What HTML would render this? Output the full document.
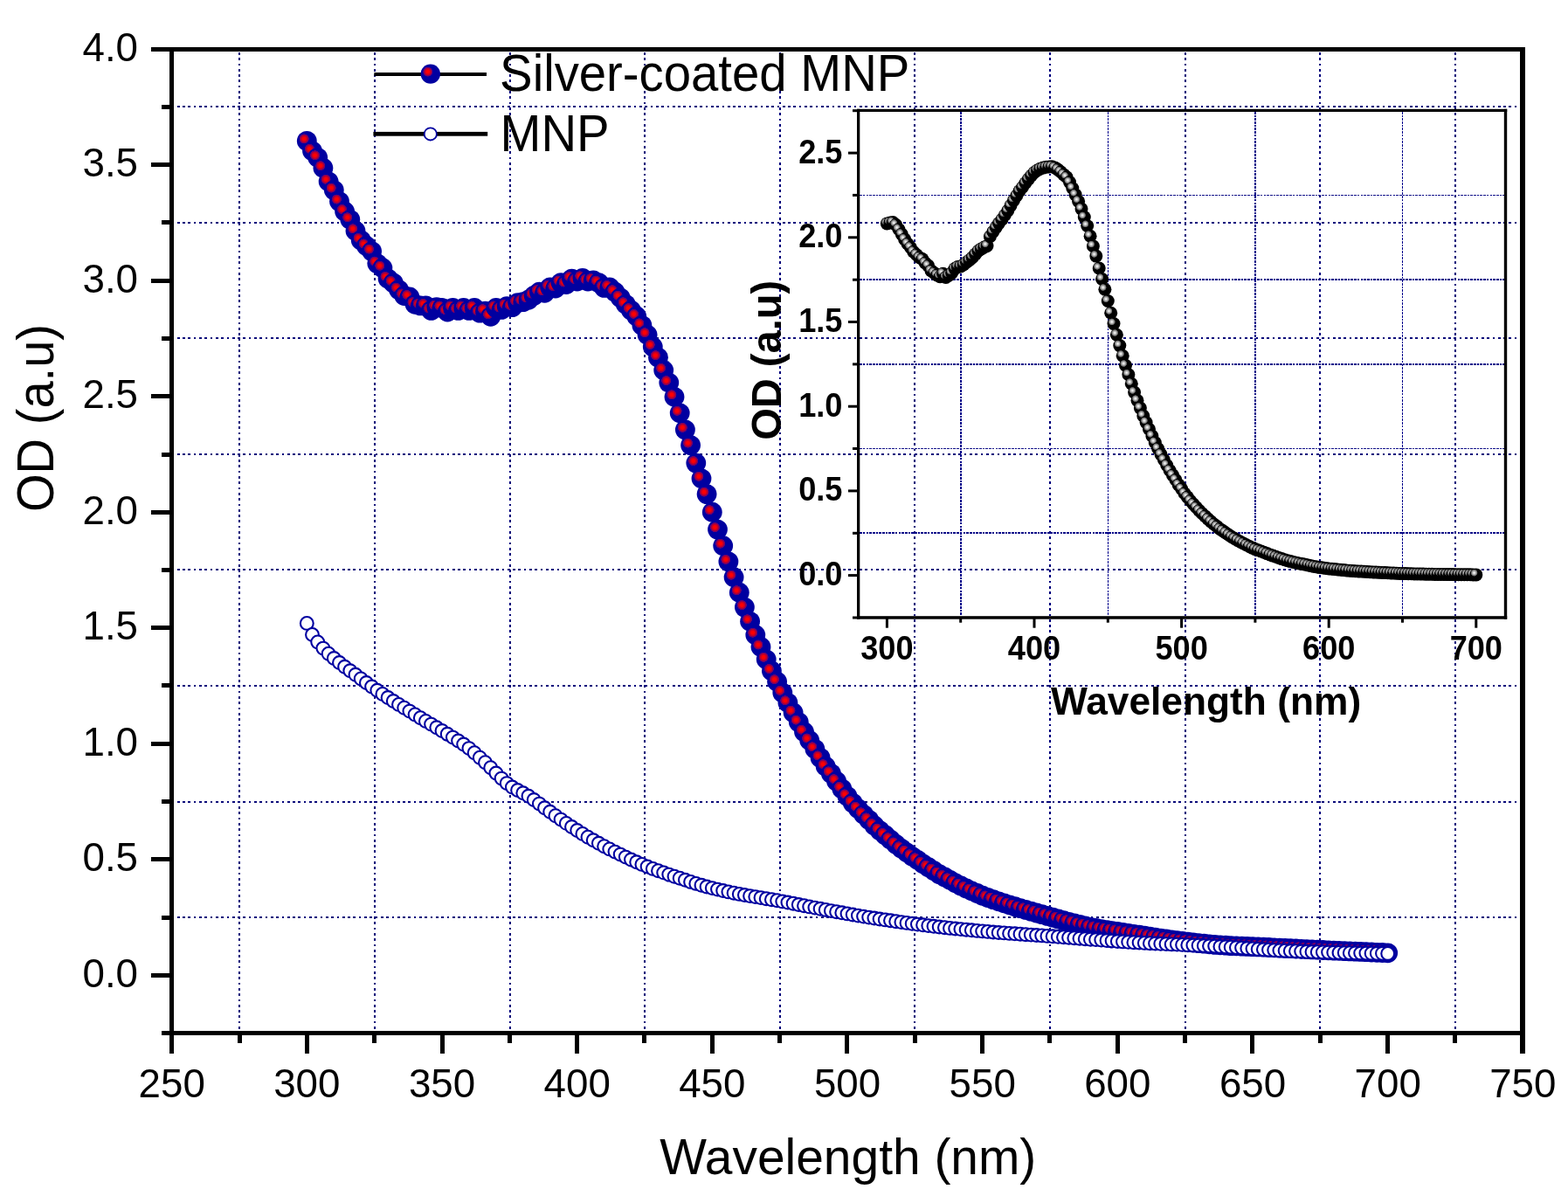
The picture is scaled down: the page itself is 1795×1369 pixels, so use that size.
<!DOCTYPE html>
<html lang="en"><head><meta charset="utf-8"><title>OD vs Wavelength</title>
<style>html,body{margin:0;padding:0;background:#fff}body{width:1795px;height:1369px;overflow:hidden}svg{display:block}</style>
</head><body>
<svg width="1795" height="1369" viewBox="0 0 1795 1369" font-family="'Liberation Sans', Arial, sans-serif">
<defs>
<radialGradient id="gr" cx="0.364" cy="0.39" r="0.25" fx="0.364" fy="0.39">
<stop offset="0" stop-color="#ff0000"/><stop offset="0.34" stop-color="#ff0000"/><stop offset="0.44" stop-color="#d4001c"/><stop offset="0.66" stop-color="#c00028"/><stop offset="0.76" stop-color="#7c0060"/><stop offset="0.93" stop-color="#6c0070"/><stop offset="1" stop-color="#0000a0"/>
</radialGradient>
<radialGradient id="gg" cx="0.353" cy="0.353" r="0.27" fx="0.353" fy="0.353">
<stop offset="0" stop-color="#fcfcfc"/><stop offset="0.2" stop-color="#e4e4e4"/><stop offset="0.5" stop-color="#b0b0b0"/><stop offset="0.75" stop-color="#787878"/><stop offset="0.92" stop-color="#444444"/><stop offset="1" stop-color="#000000"/>
</radialGradient>
</defs>
<rect width="1795" height="1369" fill="#ffffff"/>
<g stroke="#00007a" stroke-width="2" stroke-dasharray="2.7 3.6" fill="none" shape-rendering="crispEdges">
<line x1="274" y1="59.9" x2="274" y2="1180"/>
<line x1="429" y1="59.9" x2="429" y2="1180"/>
<line x1="584" y1="59.9" x2="584" y2="1180"/>
<line x1="738" y1="59.9" x2="738" y2="1180"/>
<line x1="893" y1="59.9" x2="893" y2="1180"/>
<line x1="1047" y1="59.9" x2="1047" y2="1180"/>
<line x1="1202" y1="59.9" x2="1202" y2="1180"/>
<line x1="1357" y1="59.9" x2="1357" y2="1180"/>
<line x1="1511" y1="59.9" x2="1511" y2="1180"/>
<line x1="1666" y1="59.9" x2="1666" y2="1180"/>
<line x1="202.8" y1="122" x2="1740" y2="122"/>
<line x1="202.8" y1="255" x2="1740" y2="255"/>
<line x1="202.8" y1="387" x2="1740" y2="387"/>
<line x1="202.8" y1="520" x2="1740" y2="520"/>
<line x1="202.8" y1="652" x2="1740" y2="652"/>
<line x1="202.8" y1="785" x2="1740" y2="785"/>
<line x1="202.8" y1="918" x2="1740" y2="918"/>
<line x1="202.8" y1="1050" x2="1740" y2="1050"/>
</g>
<g stroke="#000088" stroke-width="1.6" stroke-dasharray="2.6 1.1" fill="none" shape-rendering="crispEdges">
<line x1="1099.7" y1="127.9" x2="1099.7" y2="705.4"/>
<line x1="1268.3" y1="127.9" x2="1268.3" y2="705.4"/>
<line x1="1436.9" y1="127.9" x2="1436.9" y2="705.4"/>
<line x1="1605.5" y1="127.9" x2="1605.5" y2="705.4"/>
<line x1="984.1" y1="223.4" x2="1722.0" y2="223.4"/>
<line x1="984.1" y1="320.2" x2="1722.0" y2="320.2"/>
<line x1="984.1" y1="416.9" x2="1722.0" y2="416.9"/>
<line x1="984.1" y1="513.5" x2="1722.0" y2="513.5"/>
<line x1="984.1" y1="610.2" x2="1722.0" y2="610.2"/>
<line x1="984.1" y1="707.0" x2="1722.0" y2="707.0"/>
</g>
<g fill="#000">
<rect x="194" y="54" width="5" height="1131"/>
<rect x="1740" y="54" width="6" height="1131"/>
<rect x="194" y="54" width="1552" height="5"/>
<rect x="194" y="1180" width="1552" height="5"/>
<rect x="185" y="1180" width="10" height="5"/>
<rect x="173" y="1114" width="22" height="5"/>
<rect x="185" y="1048" width="10" height="5"/>
<rect x="173" y="981" width="22" height="5"/>
<rect x="185" y="915" width="10" height="5"/>
<rect x="173" y="849" width="22" height="5"/>
<rect x="185" y="782" width="10" height="5"/>
<rect x="173" y="716" width="22" height="5"/>
<rect x="185" y="650" width="10" height="5"/>
<rect x="173" y="584" width="22" height="5"/>
<rect x="185" y="518" width="10" height="5"/>
<rect x="173" y="451" width="22" height="5"/>
<rect x="185" y="385" width="10" height="5"/>
<rect x="173" y="319" width="22" height="5"/>
<rect x="185" y="252" width="10" height="5"/>
<rect x="173" y="186" width="22" height="5"/>
<rect x="185" y="120" width="10" height="5"/>
<rect x="173" y="54" width="22" height="5"/>
<rect x="194" y="1184" width="5" height="22"/>
<rect x="272" y="1184" width="5" height="10"/>
<rect x="349" y="1184" width="5" height="22"/>
<rect x="426" y="1184" width="5" height="10"/>
<rect x="504" y="1184" width="5" height="22"/>
<rect x="581" y="1184" width="5" height="10"/>
<rect x="658" y="1184" width="5" height="22"/>
<rect x="735" y="1184" width="5" height="10"/>
<rect x="813" y="1184" width="5" height="22"/>
<rect x="890" y="1184" width="5" height="10"/>
<rect x="967" y="1184" width="5" height="22"/>
<rect x="1045" y="1184" width="5" height="10"/>
<rect x="1122" y="1184" width="5" height="22"/>
<rect x="1199" y="1184" width="5" height="10"/>
<rect x="1277" y="1184" width="5" height="22"/>
<rect x="1354" y="1184" width="5" height="10"/>
<rect x="1431" y="1184" width="5" height="22"/>
<rect x="1509" y="1184" width="5" height="10"/>
<rect x="1586" y="1184" width="5" height="22"/>
<rect x="1663" y="1184" width="5" height="10"/>
<rect x="1740" y="1184" width="6" height="22"/>
</g>
<g font-size="45.7" fill="#000">
<text transform="translate(158 1129.6) scale(1 1.02)" text-anchor="end">0.0</text>
<text transform="translate(158 997.1) scale(1 1.02)" text-anchor="end">0.5</text>
<text transform="translate(158 864.6) scale(1 1.02)" text-anchor="end">1.0</text>
<text transform="translate(158 732.1) scale(1 1.02)" text-anchor="end">1.5</text>
<text transform="translate(158 599.6) scale(1 1.02)" text-anchor="end">2.0</text>
<text transform="translate(158 467.1) scale(1 1.02)" text-anchor="end">2.5</text>
<text transform="translate(158 334.6) scale(1 1.02)" text-anchor="end">3.0</text>
<text transform="translate(158 202.1) scale(1 1.02)" text-anchor="end">3.5</text>
<text transform="translate(158 69.6) scale(1 1.02)" text-anchor="end">4.0</text>
<text transform="translate(196.7 1256.2) scale(1 1.02)" text-anchor="middle">250</text>
<text transform="translate(351.3 1256.2) scale(1 1.02)" text-anchor="middle">300</text>
<text transform="translate(506.0 1256.2) scale(1 1.02)" text-anchor="middle">350</text>
<text transform="translate(660.7 1256.2) scale(1 1.02)" text-anchor="middle">400</text>
<text transform="translate(815.3 1256.2) scale(1 1.02)" text-anchor="middle">450</text>
<text transform="translate(970.0 1256.2) scale(1 1.02)" text-anchor="middle">500</text>
<text transform="translate(1124.7 1256.2) scale(1 1.02)" text-anchor="middle">550</text>
<text transform="translate(1279.3 1256.2) scale(1 1.02)" text-anchor="middle">600</text>
<text transform="translate(1434.0 1256.2) scale(1 1.02)" text-anchor="middle">650</text>
<text transform="translate(1588.7 1256.2) scale(1 1.02)" text-anchor="middle">700</text>
<text transform="translate(1743.3 1256.2) scale(1 1.02)" text-anchor="middle">750</text>
</g>
<text x="970.8" y="1344.3" font-size="56.9" text-anchor="middle">Wavelength (nm)</text>
<text transform="translate(61.4 478.5) rotate(-90) scale(1 1.045)" font-size="56.1" text-anchor="middle">OD (a.u)</text>
<g fill="url(#gr)">
<circle cx="351.3" cy="161.4" r="11.4"/>
<circle cx="357.5" cy="172.8" r="11.4"/>
<circle cx="363.7" cy="180.3" r="11.4"/>
<circle cx="369.9" cy="192.2" r="11.4"/>
<circle cx="376.1" cy="207.8" r="11.4"/>
<circle cx="382.3" cy="217.6" r="11.4"/>
<circle cx="388.5" cy="230.6" r="11.4"/>
<circle cx="394.6" cy="242.0" r="11.4"/>
<circle cx="400.8" cy="251.3" r="11.4"/>
<circle cx="407.0" cy="264.3" r="11.4"/>
<circle cx="413.2" cy="274.9" r="11.4"/>
<circle cx="419.4" cy="281.5" r="11.4"/>
<circle cx="425.6" cy="287.6" r="11.4"/>
<circle cx="431.8" cy="301.6" r="11.4"/>
<circle cx="437.9" cy="306.7" r="11.4"/>
<circle cx="444.1" cy="318.9" r="11.4"/>
<circle cx="450.3" cy="323.9" r="11.4"/>
<circle cx="456.5" cy="331.6" r="11.4"/>
<circle cx="462.7" cy="338.5" r="11.4"/>
<circle cx="468.9" cy="340.0" r="11.4"/>
<circle cx="475.1" cy="348.3" r="11.4"/>
<circle cx="481.3" cy="349.9" r="11.4"/>
<circle cx="487.4" cy="349.9" r="11.4"/>
<circle cx="493.6" cy="355.4" r="11.4"/>
<circle cx="499.8" cy="351.7" r="11.4"/>
<circle cx="506.0" cy="352.5" r="11.4"/>
<circle cx="512.2" cy="357.0" r="11.4"/>
<circle cx="518.4" cy="352.5" r="11.4"/>
<circle cx="524.6" cy="355.4" r="11.4"/>
<circle cx="530.7" cy="352.5" r="11.4"/>
<circle cx="536.9" cy="355.4" r="11.4"/>
<circle cx="543.1" cy="352.5" r="11.4"/>
<circle cx="549.3" cy="358.1" r="11.4"/>
<circle cx="555.5" cy="356.2" r="11.4"/>
<circle cx="561.7" cy="362.3" r="11.4"/>
<circle cx="567.9" cy="352.5" r="11.4"/>
<circle cx="574.1" cy="354.4" r="11.4"/>
<circle cx="580.2" cy="350.6" r="11.4"/>
<circle cx="586.4" cy="351.7" r="11.4"/>
<circle cx="592.6" cy="346.7" r="11.4"/>
<circle cx="598.8" cy="345.6" r="11.4"/>
<circle cx="605.0" cy="343.2" r="11.4"/>
<circle cx="611.2" cy="338.5" r="11.4"/>
<circle cx="617.4" cy="334.2" r="11.4"/>
<circle cx="623.5" cy="335.3" r="11.4"/>
<circle cx="629.7" cy="328.9" r="11.4"/>
<circle cx="635.9" cy="330.0" r="11.4"/>
<circle cx="642.1" cy="323.6" r="11.4"/>
<circle cx="648.3" cy="325.5" r="11.4"/>
<circle cx="654.5" cy="319.1" r="11.4"/>
<circle cx="660.7" cy="322.0" r="11.4"/>
<circle cx="666.9" cy="318.3" r="11.4"/>
<circle cx="673.0" cy="322.0" r="11.4"/>
<circle cx="679.2" cy="321.0" r="11.4"/>
<circle cx="685.4" cy="323.6" r="11.4"/>
<circle cx="691.6" cy="329.4" r="11.4"/>
<circle cx="697.8" cy="328.9" r="11.4"/>
<circle cx="704.0" cy="334.2" r="11.4"/>
<circle cx="710.2" cy="340.8" r="11.4"/>
<circle cx="716.3" cy="348.3" r="11.4"/>
<circle cx="722.5" cy="355.2" r="11.4"/>
<circle cx="728.7" cy="362.0" r="11.4"/>
<circle cx="734.9" cy="372.4" r="11.4"/>
<circle cx="741.1" cy="383.2" r="11.4"/>
<circle cx="747.3" cy="397.0" r="11.4"/>
<circle cx="753.5" cy="409.2" r="11.4"/>
<circle cx="759.7" cy="423.8" r="11.4"/>
<circle cx="765.8" cy="438.1" r="11.4"/>
<circle cx="772.0" cy="454.3" r="11.4"/>
<circle cx="778.2" cy="472.8" r="11.4"/>
<circle cx="784.4" cy="491.9" r="11.4"/>
<circle cx="790.6" cy="509.6" r="11.4"/>
<circle cx="796.8" cy="530.1" r="11.4"/>
<circle cx="803.0" cy="547.8" r="11.4"/>
<circle cx="809.1" cy="565.6" r="11.4"/>
<circle cx="815.3" cy="586.2" r="11.4"/>
<circle cx="821.5" cy="606.1" r="11.4"/>
<circle cx="827.7" cy="624.7" r="11.4"/>
<circle cx="833.9" cy="642.9" r="11.4"/>
<circle cx="840.1" cy="660.7" r="11.4"/>
<circle cx="846.3" cy="678.2" r="11.4"/>
<circle cx="852.4" cy="695.1" r="11.4"/>
<circle cx="858.6" cy="711.3" r="11.4"/>
<circle cx="864.8" cy="726.7" r="11.4"/>
<circle cx="871.0" cy="740.5" r="11.4"/>
<circle cx="877.2" cy="754.8" r="11.4"/>
<circle cx="883.4" cy="768.0" r="11.4"/>
<circle cx="889.6" cy="780.2" r="11.4"/>
<circle cx="895.8" cy="792.9" r="11.4"/>
<circle cx="901.9" cy="804.3" r="11.4"/>
<circle cx="908.1" cy="815.7" r="11.4"/>
<circle cx="914.3" cy="826.6" r="11.4"/>
<circle cx="920.5" cy="837.7" r="11.4"/>
<circle cx="926.7" cy="847.5" r="11.4"/>
<circle cx="932.9" cy="857.3" r="11.4"/>
<circle cx="939.1" cy="867.4" r="11.4"/>
<circle cx="945.2" cy="877.2" r="11.4"/>
<circle cx="951.4" cy="885.4" r="11.4"/>
<circle cx="957.6" cy="894.2" r="11.4"/>
<circle cx="963.8" cy="902.9" r="11.4"/>
<circle cx="970.0" cy="911.4" r="11.4"/>
<circle cx="976.2" cy="919.1" r="11.4"/>
<circle cx="982.4" cy="925.7" r="11.4"/>
<circle cx="988.6" cy="932.3" r="11.4"/>
<circle cx="994.7" cy="938.4" r="11.4"/>
<circle cx="1000.9" cy="945.0" r="11.4"/>
<circle cx="1007.1" cy="950.6" r="11.4"/>
<circle cx="1013.3" cy="955.9" r="11.4"/>
<circle cx="1019.5" cy="961.2" r="11.4"/>
<circle cx="1025.7" cy="966.5" r="11.4"/>
<circle cx="1031.9" cy="971.3" r="11.4"/>
<circle cx="1038.0" cy="975.8" r="11.4"/>
<circle cx="1044.2" cy="980.3" r="11.4"/>
<circle cx="1050.4" cy="984.3" r="11.4"/>
<circle cx="1056.6" cy="988.8" r="11.4"/>
<circle cx="1062.8" cy="992.7" r="11.4"/>
<circle cx="1069.0" cy="996.7" r="11.4"/>
<circle cx="1075.2" cy="1000.7" r="11.4"/>
<circle cx="1081.4" cy="1003.9" r="11.4"/>
<circle cx="1087.5" cy="1007.3" r="11.4"/>
<circle cx="1093.7" cy="1010.8" r="11.4"/>
<circle cx="1099.9" cy="1013.9" r="11.4"/>
<circle cx="1106.1" cy="1016.9" r="11.4"/>
<circle cx="1112.3" cy="1019.8" r="11.4"/>
<circle cx="1118.5" cy="1022.4" r="11.4"/>
<circle cx="1124.7" cy="1025.1" r="11.4"/>
<circle cx="1130.8" cy="1027.5" r="11.4"/>
<circle cx="1137.0" cy="1029.7" r="11.4"/>
<circle cx="1143.2" cy="1031.8" r="11.4"/>
<circle cx="1149.4" cy="1033.8" r="11.4"/>
<circle cx="1155.6" cy="1035.8" r="11.4"/>
<circle cx="1161.8" cy="1037.7" r="11.4"/>
<circle cx="1168.0" cy="1039.6" r="11.4"/>
<circle cx="1174.2" cy="1041.4" r="11.4"/>
<circle cx="1180.3" cy="1043.2" r="11.4"/>
<circle cx="1186.5" cy="1045.0" r="11.4"/>
<circle cx="1192.7" cy="1046.7" r="11.4"/>
<circle cx="1198.9" cy="1048.4" r="11.4"/>
<circle cx="1205.1" cy="1050.1" r="11.4"/>
<circle cx="1211.3" cy="1051.9" r="11.4"/>
<circle cx="1217.5" cy="1053.6" r="11.4"/>
<circle cx="1223.6" cy="1055.3" r="11.4"/>
<circle cx="1229.8" cy="1056.9" r="11.4"/>
<circle cx="1236.0" cy="1058.5" r="11.4"/>
<circle cx="1242.2" cy="1059.9" r="11.4"/>
<circle cx="1248.4" cy="1061.3" r="11.4"/>
<circle cx="1254.6" cy="1062.5" r="11.4"/>
<circle cx="1260.8" cy="1063.6" r="11.4"/>
<circle cx="1267.0" cy="1064.6" r="11.4"/>
<circle cx="1273.1" cy="1065.6" r="11.4"/>
<circle cx="1279.3" cy="1066.5" r="11.4"/>
<circle cx="1285.5" cy="1067.5" r="11.4"/>
<circle cx="1291.7" cy="1068.4" r="11.4"/>
<circle cx="1297.9" cy="1069.3" r="11.4"/>
<circle cx="1304.1" cy="1070.2" r="11.4"/>
<circle cx="1310.3" cy="1071.2" r="11.4"/>
<circle cx="1316.4" cy="1072.2" r="11.4"/>
<circle cx="1322.6" cy="1073.1" r="11.4"/>
<circle cx="1328.8" cy="1074.1" r="11.4"/>
<circle cx="1335.0" cy="1075.0" r="11.4"/>
<circle cx="1341.2" cy="1075.9" r="11.4"/>
<circle cx="1347.4" cy="1076.7" r="11.4"/>
<circle cx="1353.6" cy="1077.5" r="11.4"/>
<circle cx="1359.8" cy="1078.2" r="11.4"/>
<circle cx="1365.9" cy="1078.9" r="11.4"/>
<circle cx="1372.1" cy="1079.6" r="11.4"/>
<circle cx="1378.3" cy="1080.2" r="11.4"/>
<circle cx="1384.5" cy="1080.8" r="11.4"/>
<circle cx="1390.7" cy="1081.4" r="11.4"/>
<circle cx="1396.9" cy="1081.8" r="11.4"/>
<circle cx="1403.1" cy="1082.2" r="11.4"/>
<circle cx="1409.2" cy="1082.6" r="11.4"/>
<circle cx="1415.4" cy="1082.8" r="11.4"/>
<circle cx="1421.6" cy="1083.1" r="11.4"/>
<circle cx="1427.8" cy="1083.4" r="11.4"/>
<circle cx="1434.0" cy="1083.6" r="11.4"/>
<circle cx="1440.2" cy="1083.9" r="11.4"/>
<circle cx="1446.4" cy="1084.2" r="11.4"/>
<circle cx="1452.5" cy="1084.5" r="11.4"/>
<circle cx="1458.7" cy="1084.8" r="11.4"/>
<circle cx="1464.9" cy="1085.1" r="11.4"/>
<circle cx="1471.1" cy="1085.4" r="11.4"/>
<circle cx="1477.3" cy="1085.7" r="11.4"/>
<circle cx="1483.5" cy="1086.0" r="11.4"/>
<circle cx="1489.7" cy="1086.3" r="11.4"/>
<circle cx="1495.9" cy="1086.6" r="11.4"/>
<circle cx="1502.0" cy="1086.9" r="11.4"/>
<circle cx="1508.2" cy="1087.2" r="11.4"/>
<circle cx="1514.4" cy="1087.5" r="11.4"/>
<circle cx="1520.6" cy="1087.8" r="11.4"/>
<circle cx="1526.8" cy="1088.1" r="11.4"/>
<circle cx="1533.0" cy="1088.3" r="11.4"/>
<circle cx="1539.2" cy="1088.6" r="11.4"/>
<circle cx="1545.3" cy="1088.9" r="11.4"/>
<circle cx="1551.5" cy="1089.2" r="11.4"/>
<circle cx="1557.7" cy="1089.4" r="11.4"/>
<circle cx="1563.9" cy="1089.7" r="11.4"/>
<circle cx="1570.1" cy="1090.0" r="11.4"/>
<circle cx="1576.3" cy="1090.3" r="11.4"/>
<circle cx="1582.5" cy="1090.5" r="11.4"/>
<circle cx="1588.7" cy="1090.8" r="11.4"/>
</g>
<g fill="#fff" stroke="#0000a0" stroke-width="2.1">
<circle cx="351.3" cy="713.4" r="7.4"/>
<circle cx="357.5" cy="726.4" r="7.4"/>
<circle cx="363.7" cy="734.9" r="7.4"/>
<circle cx="369.9" cy="742.1" r="7.4"/>
<circle cx="376.1" cy="748.2" r="7.4"/>
<circle cx="382.3" cy="753.5" r="7.4"/>
<circle cx="388.5" cy="758.5" r="7.4"/>
<circle cx="394.6" cy="763.3" r="7.4"/>
<circle cx="400.8" cy="767.8" r="7.4"/>
<circle cx="407.0" cy="772.3" r="7.4"/>
<circle cx="413.2" cy="776.9" r="7.4"/>
<circle cx="419.4" cy="781.5" r="7.4"/>
<circle cx="425.6" cy="786.0" r="7.4"/>
<circle cx="431.8" cy="790.3" r="7.4"/>
<circle cx="437.9" cy="794.4" r="7.4"/>
<circle cx="444.1" cy="798.5" r="7.4"/>
<circle cx="450.3" cy="802.5" r="7.4"/>
<circle cx="456.5" cy="806.4" r="7.4"/>
<circle cx="462.7" cy="810.2" r="7.4"/>
<circle cx="468.9" cy="814.1" r="7.4"/>
<circle cx="475.1" cy="817.9" r="7.4"/>
<circle cx="481.3" cy="821.7" r="7.4"/>
<circle cx="487.4" cy="825.4" r="7.4"/>
<circle cx="493.6" cy="829.1" r="7.4"/>
<circle cx="499.8" cy="832.8" r="7.4"/>
<circle cx="506.0" cy="836.5" r="7.4"/>
<circle cx="512.2" cy="840.3" r="7.4"/>
<circle cx="518.4" cy="844.1" r="7.4"/>
<circle cx="524.6" cy="848.0" r="7.4"/>
<circle cx="530.7" cy="852.0" r="7.4"/>
<circle cx="536.9" cy="856.6" r="7.4"/>
<circle cx="543.1" cy="861.7" r="7.4"/>
<circle cx="549.3" cy="867.2" r="7.4"/>
<circle cx="555.5" cy="872.7" r="7.4"/>
<circle cx="561.7" cy="878.7" r="7.4"/>
<circle cx="567.9" cy="885.0" r="7.4"/>
<circle cx="574.1" cy="891.1" r="7.4"/>
<circle cx="580.2" cy="896.6" r="7.4"/>
<circle cx="586.4" cy="901.0" r="7.4"/>
<circle cx="592.6" cy="904.5" r="7.4"/>
<circle cx="598.8" cy="907.8" r="7.4"/>
<circle cx="605.0" cy="911.3" r="7.4"/>
<circle cx="611.2" cy="915.5" r="7.4"/>
<circle cx="617.4" cy="920.1" r="7.4"/>
<circle cx="623.5" cy="924.8" r="7.4"/>
<circle cx="629.7" cy="929.3" r="7.4"/>
<circle cx="635.9" cy="933.7" r="7.4"/>
<circle cx="642.1" cy="938.1" r="7.4"/>
<circle cx="648.3" cy="942.4" r="7.4"/>
<circle cx="654.5" cy="946.5" r="7.4"/>
<circle cx="660.7" cy="950.5" r="7.4"/>
<circle cx="666.9" cy="954.4" r="7.4"/>
<circle cx="673.0" cy="958.2" r="7.4"/>
<circle cx="679.2" cy="961.8" r="7.4"/>
<circle cx="685.4" cy="965.3" r="7.4"/>
<circle cx="691.6" cy="968.7" r="7.4"/>
<circle cx="697.8" cy="971.9" r="7.4"/>
<circle cx="704.0" cy="975.1" r="7.4"/>
<circle cx="710.2" cy="978.1" r="7.4"/>
<circle cx="716.3" cy="981.1" r="7.4"/>
<circle cx="722.5" cy="984.0" r="7.4"/>
<circle cx="728.7" cy="986.8" r="7.4"/>
<circle cx="734.9" cy="989.4" r="7.4"/>
<circle cx="741.1" cy="992.0" r="7.4"/>
<circle cx="747.3" cy="994.4" r="7.4"/>
<circle cx="753.5" cy="996.7" r="7.4"/>
<circle cx="759.7" cy="998.9" r="7.4"/>
<circle cx="765.8" cy="1001.1" r="7.4"/>
<circle cx="772.0" cy="1003.2" r="7.4"/>
<circle cx="778.2" cy="1005.2" r="7.4"/>
<circle cx="784.4" cy="1007.3" r="7.4"/>
<circle cx="790.6" cy="1009.4" r="7.4"/>
<circle cx="796.8" cy="1011.4" r="7.4"/>
<circle cx="803.0" cy="1013.3" r="7.4"/>
<circle cx="809.1" cy="1015.0" r="7.4"/>
<circle cx="815.3" cy="1016.6" r="7.4"/>
<circle cx="821.5" cy="1018.1" r="7.4"/>
<circle cx="827.7" cy="1019.5" r="7.4"/>
<circle cx="833.9" cy="1020.9" r="7.4"/>
<circle cx="840.1" cy="1022.2" r="7.4"/>
<circle cx="846.3" cy="1023.4" r="7.4"/>
<circle cx="852.4" cy="1024.5" r="7.4"/>
<circle cx="858.6" cy="1025.6" r="7.4"/>
<circle cx="864.8" cy="1026.6" r="7.4"/>
<circle cx="871.0" cy="1027.6" r="7.4"/>
<circle cx="877.2" cy="1028.7" r="7.4"/>
<circle cx="883.4" cy="1029.7" r="7.4"/>
<circle cx="889.6" cy="1030.7" r="7.4"/>
<circle cx="895.8" cy="1031.9" r="7.4"/>
<circle cx="901.9" cy="1033.0" r="7.4"/>
<circle cx="908.1" cy="1034.2" r="7.4"/>
<circle cx="914.3" cy="1035.5" r="7.4"/>
<circle cx="920.5" cy="1036.7" r="7.4"/>
<circle cx="926.7" cy="1037.9" r="7.4"/>
<circle cx="932.9" cy="1039.1" r="7.4"/>
<circle cx="939.1" cy="1040.3" r="7.4"/>
<circle cx="945.2" cy="1041.4" r="7.4"/>
<circle cx="951.4" cy="1042.6" r="7.4"/>
<circle cx="957.6" cy="1043.7" r="7.4"/>
<circle cx="963.8" cy="1044.8" r="7.4"/>
<circle cx="970.0" cy="1045.9" r="7.4"/>
<circle cx="976.2" cy="1047.0" r="7.4"/>
<circle cx="982.4" cy="1048.1" r="7.4"/>
<circle cx="988.6" cy="1049.1" r="7.4"/>
<circle cx="994.7" cy="1050.1" r="7.4"/>
<circle cx="1000.9" cy="1051.0" r="7.4"/>
<circle cx="1007.1" cy="1052.0" r="7.4"/>
<circle cx="1013.3" cy="1052.9" r="7.4"/>
<circle cx="1019.5" cy="1053.8" r="7.4"/>
<circle cx="1025.7" cy="1054.7" r="7.4"/>
<circle cx="1031.9" cy="1055.6" r="7.4"/>
<circle cx="1038.0" cy="1056.4" r="7.4"/>
<circle cx="1044.2" cy="1057.3" r="7.4"/>
<circle cx="1050.4" cy="1058.1" r="7.4"/>
<circle cx="1056.6" cy="1058.8" r="7.4"/>
<circle cx="1062.8" cy="1059.6" r="7.4"/>
<circle cx="1069.0" cy="1060.3" r="7.4"/>
<circle cx="1075.2" cy="1061.0" r="7.4"/>
<circle cx="1081.4" cy="1061.7" r="7.4"/>
<circle cx="1087.5" cy="1062.4" r="7.4"/>
<circle cx="1093.7" cy="1063.0" r="7.4"/>
<circle cx="1099.9" cy="1063.6" r="7.4"/>
<circle cx="1106.1" cy="1064.2" r="7.4"/>
<circle cx="1112.3" cy="1064.8" r="7.4"/>
<circle cx="1118.5" cy="1065.4" r="7.4"/>
<circle cx="1124.7" cy="1065.9" r="7.4"/>
<circle cx="1130.8" cy="1066.4" r="7.4"/>
<circle cx="1137.0" cy="1067.0" r="7.4"/>
<circle cx="1143.2" cy="1067.5" r="7.4"/>
<circle cx="1149.4" cy="1067.9" r="7.4"/>
<circle cx="1155.6" cy="1068.4" r="7.4"/>
<circle cx="1161.8" cy="1068.8" r="7.4"/>
<circle cx="1168.0" cy="1069.2" r="7.4"/>
<circle cx="1174.2" cy="1069.7" r="7.4"/>
<circle cx="1180.3" cy="1070.1" r="7.4"/>
<circle cx="1186.5" cy="1070.5" r="7.4"/>
<circle cx="1192.7" cy="1070.9" r="7.4"/>
<circle cx="1198.9" cy="1071.4" r="7.4"/>
<circle cx="1205.1" cy="1071.8" r="7.4"/>
<circle cx="1211.3" cy="1072.3" r="7.4"/>
<circle cx="1217.5" cy="1072.7" r="7.4"/>
<circle cx="1223.6" cy="1073.2" r="7.4"/>
<circle cx="1229.8" cy="1073.7" r="7.4"/>
<circle cx="1236.0" cy="1074.2" r="7.4"/>
<circle cx="1242.2" cy="1074.7" r="7.4"/>
<circle cx="1248.4" cy="1075.2" r="7.4"/>
<circle cx="1254.6" cy="1075.6" r="7.4"/>
<circle cx="1260.8" cy="1076.1" r="7.4"/>
<circle cx="1267.0" cy="1076.6" r="7.4"/>
<circle cx="1273.1" cy="1077.0" r="7.4"/>
<circle cx="1279.3" cy="1077.5" r="7.4"/>
<circle cx="1285.5" cy="1077.9" r="7.4"/>
<circle cx="1291.7" cy="1078.3" r="7.4"/>
<circle cx="1297.9" cy="1078.7" r="7.4"/>
<circle cx="1304.1" cy="1079.0" r="7.4"/>
<circle cx="1310.3" cy="1079.4" r="7.4"/>
<circle cx="1316.4" cy="1079.7" r="7.4"/>
<circle cx="1322.6" cy="1080.0" r="7.4"/>
<circle cx="1328.8" cy="1080.3" r="7.4"/>
<circle cx="1335.0" cy="1080.6" r="7.4"/>
<circle cx="1341.2" cy="1080.9" r="7.4"/>
<circle cx="1347.4" cy="1081.1" r="7.4"/>
<circle cx="1353.6" cy="1081.4" r="7.4"/>
<circle cx="1359.8" cy="1081.7" r="7.4"/>
<circle cx="1365.9" cy="1082.0" r="7.4"/>
<circle cx="1372.1" cy="1082.2" r="7.4"/>
<circle cx="1378.3" cy="1082.5" r="7.4"/>
<circle cx="1384.5" cy="1082.8" r="7.4"/>
<circle cx="1390.7" cy="1083.1" r="7.4"/>
<circle cx="1396.9" cy="1083.5" r="7.4"/>
<circle cx="1403.1" cy="1083.8" r="7.4"/>
<circle cx="1409.2" cy="1084.2" r="7.4"/>
<circle cx="1415.4" cy="1084.6" r="7.4"/>
<circle cx="1421.6" cy="1085.0" r="7.4"/>
<circle cx="1427.8" cy="1085.5" r="7.4"/>
<circle cx="1434.0" cy="1085.9" r="7.4"/>
<circle cx="1440.2" cy="1086.4" r="7.4"/>
<circle cx="1446.4" cy="1086.8" r="7.4"/>
<circle cx="1452.5" cy="1087.2" r="7.4"/>
<circle cx="1458.7" cy="1087.6" r="7.4"/>
<circle cx="1464.9" cy="1087.9" r="7.4"/>
<circle cx="1471.1" cy="1088.2" r="7.4"/>
<circle cx="1477.3" cy="1088.5" r="7.4"/>
<circle cx="1483.5" cy="1088.7" r="7.4"/>
<circle cx="1489.7" cy="1089.0" r="7.4"/>
<circle cx="1495.9" cy="1089.3" r="7.4"/>
<circle cx="1502.0" cy="1089.5" r="7.4"/>
<circle cx="1508.2" cy="1089.7" r="7.4"/>
<circle cx="1514.4" cy="1089.9" r="7.4"/>
<circle cx="1520.6" cy="1090.1" r="7.4"/>
<circle cx="1526.8" cy="1090.3" r="7.4"/>
<circle cx="1533.0" cy="1090.4" r="7.4"/>
<circle cx="1539.2" cy="1090.6" r="7.4"/>
<circle cx="1545.3" cy="1090.7" r="7.4"/>
<circle cx="1551.5" cy="1090.8" r="7.4"/>
<circle cx="1557.7" cy="1091.0" r="7.4"/>
<circle cx="1563.9" cy="1091.1" r="7.4"/>
<circle cx="1570.1" cy="1091.2" r="7.4"/>
<circle cx="1576.3" cy="1091.3" r="7.4"/>
<circle cx="1582.5" cy="1091.3" r="7.4"/>
<circle cx="1588.7" cy="1091.4" r="7.4"/>
</g>
<rect x="428.4" y="83" width="128.6" height="4" fill="#000"/>
<circle cx="492.8" cy="84.6" r="11.2" fill="url(#gr)"/>
<rect x="427.4" y="150.9" width="130.8" height="4.8" fill="#000"/>
<circle cx="492.8" cy="153.4" r="7.1" fill="#fff" stroke="#0000a0" stroke-width="1.8"/>
<text transform="translate(572.1 104.4) scale(1 1.05)" font-size="56.3">Silver-coated MNP</text>
<text transform="translate(572.5 172.6) scale(1 1.055)" font-size="56.3">MNP</text>
<g fill="#000">
<rect x="981.0" y="124.8" width="3.3" height="583.9"/>
<rect x="1721.8" y="124.8" width="3.4" height="583.9"/>
<rect x="981.0" y="124.8" width="744.2" height="3.2"/>
<rect x="981.0" y="705.2" width="744.2" height="3.5"/>
<rect x="976.0" y="705.5" width="6" height="3"/>
<rect x="971.0" y="657.1" width="11" height="3"/>
<rect x="976.0" y="608.8" width="6" height="3"/>
<rect x="971.0" y="560.4" width="11" height="3"/>
<rect x="976.0" y="512.0" width="6" height="3"/>
<rect x="971.0" y="463.7" width="11" height="3"/>
<rect x="976.0" y="415.4" width="6" height="3"/>
<rect x="971.0" y="367.0" width="11" height="3"/>
<rect x="976.0" y="318.7" width="6" height="3"/>
<rect x="971.0" y="270.3" width="11" height="3"/>
<rect x="976.0" y="221.9" width="6" height="3"/>
<rect x="971.0" y="173.6" width="11" height="3"/>
<rect x="976.0" y="125.2" width="6" height="3"/>
<rect x="1013.9" y="707.9" width="3" height="10.8"/>
<rect x="1098.2" y="707.9" width="3" height="4.8"/>
<rect x="1182.5" y="707.9" width="3" height="10.8"/>
<rect x="1266.8" y="707.9" width="3" height="4.8"/>
<rect x="1351.1" y="707.9" width="3" height="10.8"/>
<rect x="1435.4" y="707.9" width="3" height="4.8"/>
<rect x="1519.7" y="707.9" width="3" height="10.8"/>
<rect x="1604.0" y="707.9" width="3" height="4.8"/>
<rect x="1688.3" y="707.9" width="3" height="10.8"/>
</g>
<g font-size="36.2" font-weight="bold" fill="#000">
<text transform="translate(964.5 670.1) scale(1 1.05)" text-anchor="end">0.0</text>
<text transform="translate(964.5 573.4) scale(1 1.05)" text-anchor="end">0.5</text>
<text transform="translate(964.5 476.7) scale(1 1.05)" text-anchor="end">1.0</text>
<text transform="translate(964.5 380.0) scale(1 1.05)" text-anchor="end">1.5</text>
<text transform="translate(964.5 283.3) scale(1 1.05)" text-anchor="end">2.0</text>
<text transform="translate(964.5 186.6) scale(1 1.05)" text-anchor="end">2.5</text>
<text transform="translate(1015.4 755.4) scale(1 1.055)" text-anchor="middle">300</text>
<text transform="translate(1184.0 755.4) scale(1 1.055)" text-anchor="middle">400</text>
<text transform="translate(1352.6 755.4) scale(1 1.055)" text-anchor="middle">500</text>
<text transform="translate(1521.2 755.4) scale(1 1.055)" text-anchor="middle">600</text>
<text transform="translate(1689.8 755.4) scale(1 1.055)" text-anchor="middle">700</text>
</g>
<text x="1380.6" y="818" font-size="44.3" font-weight="bold" text-anchor="middle">Wavelength (nm)</text>
<text transform="translate(893.8 412.3) rotate(-90) scale(1 1.03)" font-size="47.1" font-weight="bold" text-anchor="middle">OD (a.u)</text>
<g fill="url(#gg)">
<circle cx="1015.4" cy="255.9" r="7.5"/>
<circle cx="1018.8" cy="255.0" r="7.5"/>
<circle cx="1022.1" cy="254.6" r="7.5"/>
<circle cx="1025.5" cy="257.3" r="7.5"/>
<circle cx="1028.9" cy="262.5" r="7.5"/>
<circle cx="1032.3" cy="268.1" r="7.5"/>
<circle cx="1035.6" cy="273.9" r="7.5"/>
<circle cx="1039.0" cy="279.0" r="7.5"/>
<circle cx="1042.4" cy="283.2" r="7.5"/>
<circle cx="1045.7" cy="288.2" r="7.5"/>
<circle cx="1049.1" cy="291.5" r="7.5"/>
<circle cx="1052.5" cy="294.8" r="7.5"/>
<circle cx="1055.9" cy="296.6" r="7.5"/>
<circle cx="1059.2" cy="301.0" r="7.5"/>
<circle cx="1062.6" cy="304.1" r="7.5"/>
<circle cx="1066.0" cy="309.9" r="7.5"/>
<circle cx="1069.4" cy="312.4" r="7.5"/>
<circle cx="1072.7" cy="314.9" r="7.5"/>
<circle cx="1076.1" cy="316.7" r="7.5"/>
<circle cx="1079.5" cy="313.2" r="7.5"/>
<circle cx="1082.8" cy="317.4" r="7.5"/>
<circle cx="1086.2" cy="315.3" r="7.5"/>
<circle cx="1089.6" cy="312.4" r="7.5"/>
<circle cx="1093.0" cy="307.6" r="7.5"/>
<circle cx="1096.3" cy="305.5" r="7.5"/>
<circle cx="1099.7" cy="304.9" r="7.5"/>
<circle cx="1103.1" cy="303.0" r="7.5"/>
<circle cx="1106.4" cy="300.2" r="7.5"/>
<circle cx="1109.8" cy="297.7" r="7.5"/>
<circle cx="1113.2" cy="294.8" r="7.5"/>
<circle cx="1116.6" cy="290.9" r="7.5"/>
<circle cx="1119.9" cy="287.3" r="7.5"/>
<circle cx="1123.3" cy="284.9" r="7.5"/>
<circle cx="1126.7" cy="283.0" r="7.5"/>
<circle cx="1130.0" cy="281.5" r="7.5"/>
<circle cx="1133.4" cy="270.8" r="7.5"/>
<circle cx="1136.8" cy="265.4" r="7.5"/>
<circle cx="1140.2" cy="260.4" r="7.5"/>
<circle cx="1143.5" cy="255.6" r="7.5"/>
<circle cx="1146.9" cy="251.3" r="7.5"/>
<circle cx="1150.3" cy="246.3" r="7.5"/>
<circle cx="1153.7" cy="241.2" r="7.5"/>
<circle cx="1157.0" cy="235.4" r="7.5"/>
<circle cx="1160.4" cy="229.4" r="7.5"/>
<circle cx="1163.8" cy="224.0" r="7.5"/>
<circle cx="1167.1" cy="218.6" r="7.5"/>
<circle cx="1170.5" cy="214.2" r="7.5"/>
<circle cx="1173.9" cy="209.5" r="7.5"/>
<circle cx="1177.3" cy="205.1" r="7.5"/>
<circle cx="1180.6" cy="201.0" r="7.5"/>
<circle cx="1184.0" cy="197.5" r="7.5"/>
<circle cx="1187.4" cy="195.0" r="7.5"/>
<circle cx="1190.7" cy="193.3" r="7.5"/>
<circle cx="1194.1" cy="192.1" r="7.5"/>
<circle cx="1197.5" cy="191.3" r="7.5"/>
<circle cx="1200.9" cy="191.0" r="7.5"/>
<circle cx="1204.2" cy="190.8" r="7.5"/>
<circle cx="1207.6" cy="191.9" r="7.5"/>
<circle cx="1211.0" cy="194.1" r="7.5"/>
<circle cx="1214.3" cy="196.8" r="7.5"/>
<circle cx="1217.7" cy="199.9" r="7.5"/>
<circle cx="1221.1" cy="202.8" r="7.5"/>
<circle cx="1224.5" cy="208.6" r="7.5"/>
<circle cx="1227.8" cy="215.5" r="7.5"/>
<circle cx="1231.2" cy="222.9" r="7.5"/>
<circle cx="1234.6" cy="230.4" r="7.5"/>
<circle cx="1238.0" cy="239.1" r="7.5"/>
<circle cx="1241.3" cy="248.6" r="7.5"/>
<circle cx="1244.7" cy="258.5" r="7.5"/>
<circle cx="1248.1" cy="270.3" r="7.5"/>
<circle cx="1251.4" cy="281.7" r="7.5"/>
<circle cx="1254.8" cy="293.1" r="7.5"/>
<circle cx="1258.2" cy="307.0" r="7.5"/>
<circle cx="1261.6" cy="319.4" r="7.5"/>
<circle cx="1264.9" cy="331.2" r="7.5"/>
<circle cx="1268.3" cy="344.5" r="7.5"/>
<circle cx="1271.7" cy="358.2" r="7.5"/>
<circle cx="1275.0" cy="370.6" r="7.5"/>
<circle cx="1278.4" cy="383.2" r="7.5"/>
<circle cx="1281.8" cy="395.6" r="7.5"/>
<circle cx="1285.2" cy="407.2" r="7.5"/>
<circle cx="1288.5" cy="418.2" r="7.5"/>
<circle cx="1291.9" cy="428.8" r="7.5"/>
<circle cx="1295.3" cy="439.3" r="7.5"/>
<circle cx="1298.6" cy="449.1" r="7.5"/>
<circle cx="1302.0" cy="458.4" r="7.5"/>
<circle cx="1305.4" cy="467.1" r="7.5"/>
<circle cx="1308.8" cy="476.0" r="7.5"/>
<circle cx="1312.1" cy="483.6" r="7.5"/>
<circle cx="1315.5" cy="491.3" r="7.5"/>
<circle cx="1318.9" cy="499.0" r="7.5"/>
<circle cx="1322.3" cy="506.6" r="7.5"/>
<circle cx="1325.6" cy="513.5" r="7.5"/>
<circle cx="1329.0" cy="520.1" r="7.5"/>
<circle cx="1332.4" cy="526.3" r="7.5"/>
<circle cx="1335.7" cy="532.5" r="7.5"/>
<circle cx="1339.1" cy="538.5" r="7.5"/>
<circle cx="1342.5" cy="543.9" r="7.5"/>
<circle cx="1345.9" cy="549.3" r="7.5"/>
<circle cx="1349.2" cy="554.9" r="7.5"/>
<circle cx="1352.6" cy="559.6" r="7.5"/>
<circle cx="1356.0" cy="564.7" r="7.5"/>
<circle cx="1359.3" cy="568.9" r="7.5"/>
<circle cx="1362.7" cy="573.2" r="7.5"/>
<circle cx="1366.1" cy="577.0" r="7.5"/>
<circle cx="1369.5" cy="580.8" r="7.5"/>
<circle cx="1372.8" cy="584.4" r="7.5"/>
<circle cx="1376.2" cy="587.8" r="7.5"/>
<circle cx="1379.6" cy="590.9" r="7.5"/>
<circle cx="1382.9" cy="594.1" r="7.5"/>
<circle cx="1386.3" cy="597.1" r="7.5"/>
<circle cx="1389.7" cy="600.0" r="7.5"/>
<circle cx="1393.1" cy="602.6" r="7.5"/>
<circle cx="1396.4" cy="605.4" r="7.5"/>
<circle cx="1399.8" cy="607.6" r="7.5"/>
<circle cx="1403.2" cy="610.0" r="7.5"/>
<circle cx="1406.6" cy="612.3" r="7.5"/>
<circle cx="1409.9" cy="614.5" r="7.5"/>
<circle cx="1413.3" cy="616.5" r="7.5"/>
<circle cx="1416.7" cy="618.4" r="7.5"/>
<circle cx="1420.0" cy="620.2" r="7.5"/>
<circle cx="1423.4" cy="622.0" r="7.5"/>
<circle cx="1426.8" cy="623.8" r="7.5"/>
<circle cx="1430.2" cy="625.5" r="7.5"/>
<circle cx="1433.5" cy="627.1" r="7.5"/>
<circle cx="1436.9" cy="628.6" r="7.5"/>
<circle cx="1440.3" cy="629.8" r="7.5"/>
<circle cx="1443.6" cy="631.0" r="7.5"/>
<circle cx="1447.0" cy="632.3" r="7.5"/>
<circle cx="1450.4" cy="633.6" r="7.5"/>
<circle cx="1453.8" cy="634.9" r="7.5"/>
<circle cx="1457.1" cy="636.1" r="7.5"/>
<circle cx="1460.5" cy="637.3" r="7.5"/>
<circle cx="1463.9" cy="638.5" r="7.5"/>
<circle cx="1467.2" cy="639.6" r="7.5"/>
<circle cx="1470.6" cy="640.7" r="7.5"/>
<circle cx="1474.0" cy="641.7" r="7.5"/>
<circle cx="1477.4" cy="642.6" r="7.5"/>
<circle cx="1480.7" cy="643.5" r="7.5"/>
<circle cx="1484.1" cy="644.2" r="7.5"/>
<circle cx="1487.5" cy="644.9" r="7.5"/>
<circle cx="1490.9" cy="645.6" r="7.5"/>
<circle cx="1494.2" cy="646.3" r="7.5"/>
<circle cx="1497.6" cy="647.0" r="7.5"/>
<circle cx="1501.0" cy="647.7" r="7.5"/>
<circle cx="1504.3" cy="648.4" r="7.5"/>
<circle cx="1507.7" cy="649.0" r="7.5"/>
<circle cx="1511.1" cy="649.6" r="7.5"/>
<circle cx="1514.5" cy="650.0" r="7.5"/>
<circle cx="1517.8" cy="650.5" r="7.5"/>
<circle cx="1521.2" cy="650.9" r="7.5"/>
<circle cx="1524.6" cy="651.3" r="7.5"/>
<circle cx="1527.9" cy="651.6" r="7.5"/>
<circle cx="1531.3" cy="652.0" r="7.5"/>
<circle cx="1534.7" cy="652.3" r="7.5"/>
<circle cx="1538.1" cy="652.6" r="7.5"/>
<circle cx="1541.4" cy="652.9" r="7.5"/>
<circle cx="1544.8" cy="653.2" r="7.5"/>
<circle cx="1548.2" cy="653.4" r="7.5"/>
<circle cx="1551.5" cy="653.7" r="7.5"/>
<circle cx="1554.9" cy="653.9" r="7.5"/>
<circle cx="1558.3" cy="654.1" r="7.5"/>
<circle cx="1561.7" cy="654.3" r="7.5"/>
<circle cx="1565.0" cy="654.5" r="7.5"/>
<circle cx="1568.4" cy="654.7" r="7.5"/>
<circle cx="1571.8" cy="654.9" r="7.5"/>
<circle cx="1575.2" cy="655.1" r="7.5"/>
<circle cx="1578.5" cy="655.3" r="7.5"/>
<circle cx="1581.9" cy="655.5" r="7.5"/>
<circle cx="1585.3" cy="655.6" r="7.5"/>
<circle cx="1588.6" cy="655.8" r="7.5"/>
<circle cx="1592.0" cy="655.9" r="7.5"/>
<circle cx="1595.4" cy="656.1" r="7.5"/>
<circle cx="1598.8" cy="656.2" r="7.5"/>
<circle cx="1602.1" cy="656.4" r="7.5"/>
<circle cx="1605.5" cy="656.5" r="7.5"/>
<circle cx="1608.9" cy="656.6" r="7.5"/>
<circle cx="1612.2" cy="656.7" r="7.5"/>
<circle cx="1615.6" cy="656.8" r="7.5"/>
<circle cx="1619.0" cy="656.9" r="7.5"/>
<circle cx="1622.4" cy="657.0" r="7.5"/>
<circle cx="1625.7" cy="657.0" r="7.5"/>
<circle cx="1629.1" cy="657.1" r="7.5"/>
<circle cx="1632.5" cy="657.2" r="7.5"/>
<circle cx="1635.8" cy="657.3" r="7.5"/>
<circle cx="1639.2" cy="657.3" r="7.5"/>
<circle cx="1642.6" cy="657.4" r="7.5"/>
<circle cx="1646.0" cy="657.4" r="7.5"/>
<circle cx="1649.3" cy="657.5" r="7.5"/>
<circle cx="1652.7" cy="657.5" r="7.5"/>
<circle cx="1656.1" cy="657.6" r="7.5"/>
<circle cx="1659.5" cy="657.6" r="7.5"/>
<circle cx="1662.8" cy="657.6" r="7.5"/>
<circle cx="1666.2" cy="657.7" r="7.5"/>
<circle cx="1669.6" cy="657.7" r="7.5"/>
<circle cx="1672.9" cy="657.7" r="7.5"/>
<circle cx="1676.3" cy="657.8" r="7.5"/>
<circle cx="1679.7" cy="657.8" r="7.5"/>
<circle cx="1683.1" cy="657.8" r="7.5"/>
<circle cx="1686.4" cy="657.9" r="7.5"/>
<circle cx="1689.8" cy="657.9" r="7.5"/>
</g>
</svg>
</body></html>
